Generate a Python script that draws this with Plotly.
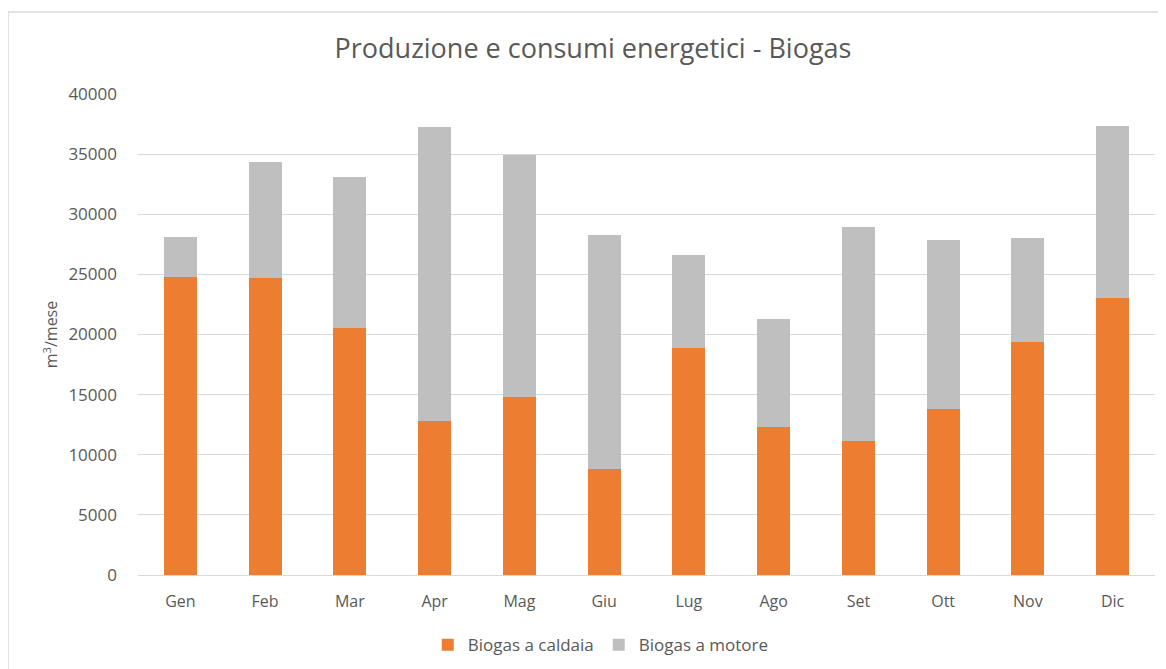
import plotly.graph_objects as go

months = ["Gen", "Feb", "Mar", "Apr", "Mag", "Giu", "Lug", "Ago", "Set", "Ott", "Nov", "Dic"]
caldaia = [24820, 24680, 20560, 12840, 14780, 8810, 18900, 12290, 11150, 13780, 19340, 23020]
motore = [3320, 9660, 12530, 24400, 20140, 19470, 7720, 8960, 17820, 14080, 8660, 14360]
y_ticks = [0, 5000, 10000, 15000, 20000, 25000, 30000, 35000, 40000]

FONT = "Open Sans"
TXT = "#595959"

# page body has an 8px offset; layout is expressed in figure coordinates
L, T, PW, PH = 130, 86, 1017, 481
W, H = 1166, 669

fig = go.Figure()
fig.add_trace(go.Bar(x=months, y=caldaia, name="Biogas a caldaia",
                     marker=dict(color="#ED7D31", line=dict(width=0))))
fig.add_trace(go.Bar(x=months, y=motore, name="Biogas a motore",
                     marker=dict(color="#BFBFBF", line=dict(width=0))))

fig.update_layout(
    barmode="stack",
    bargap=0.61,
    width=W, height=H,
    margin=dict(l=L, r=W - L - PW, t=T, b=H - T - PH, autoexpand=False),
    paper_bgcolor="white", plot_bgcolor="white",
    font=dict(family=FONT, color=TXT),
    title=dict(text="Produzione e consumi energetici - Biogas",
               x=585 / W, xref="container", xanchor="center",
               y=1 - 41 / H, yref="container", yanchor="middle",
               font=dict(size=27, color=TXT, family=FONT)),
    xaxis=dict(showgrid=False, showline=True, linecolor="#D9D9D9", linewidth=1,
               ticks="", tickfont=dict(size=16, color=TXT), ticklabelstandoff=12),
    yaxis=dict(range=[0, 40000], tickvals=y_ticks, ticktext=[str(v) for v in y_ticks],
               showgrid=True, gridcolor="#D9D9D9", gridwidth=1, zeroline=False,
               showline=False, ticks="", tickfont=dict(size=17, color=TXT),
               ticklabelstandoff=20,
               title=dict(text="m<sup>3</sup>/mese", font=dict(size=16, color=TXT), standoff=6)),
    legend=dict(orientation="h", x=0.455, xanchor="center", y=-0.146, yanchor="middle",
                font=dict(size=17, color=TXT), traceorder="normal",
                itemwidth=30, tracegroupgap=0),
    shapes=[dict(type="rect", xref="paper", yref="paper",
                 x0=(0 - L) / PW, x1=1.05, y0=-0.3, y1=(T + PH - 4) / PH,
                 line=dict(color="#D9D9D9", width=1.5), fillcolor="rgba(0,0,0,0)",
                 layer="below")],
)

fig.write_html("out.html")
